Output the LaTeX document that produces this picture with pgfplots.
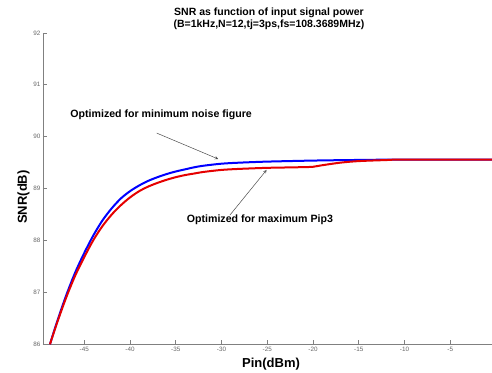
\documentclass[border=0pt]{standalone}
\usepackage{fontspec}
\setmainfont{Liberation Sans}
\usepackage{pgfplots}
\pgfplotsset{compat=1.18}
\begin{document}
\begin{tikzpicture}
\begin{axis}[
  at={(43pt,27.7pt)}, anchor=south west,
  x=9.15pt, y=51.9pt,
  xmin=-49.51, xmax=-0.44, ymin=86, ymax=92,
  axis lines*=left,
  axis line style={-, draw=black!50, line width=0.8pt},
  tick align=inside,
  major tick length=4pt,
  tick style={draw=black!50, line width=0.6pt},
  xtick={-45,-40,...,-5},
  ytick={86,87,...,92},
  /pgf/number format/assume math mode=true,
  tick label style={font=\fontsize{6.3}{7}\selectfont, text=black!60},
  yticklabel style={xshift=1pt},
  xticklabel style={yshift=1pt},
]
\addplot[blue, line width=2pt, smooth, tension=0.5] coordinates {
(-48.75,86.0) (-48,86.42) (-47,86.93) (-46,87.38) (-45,87.76) (-44,88.10)
(-43,88.39) (-42,88.62) (-41,88.81) (-40,88.95) (-39,89.06) (-38,89.15)
(-37,89.22) (-36,89.28) (-35,89.33) (-34,89.37) (-33,89.41) (-32,89.44)
(-30,89.48) (-28,89.50) (-25,89.52) (-20,89.54) (-16,89.55) (-10,89.56) (0,89.56)
};
\addplot[red!90!black, line width=2pt, smooth, tension=0.5] coordinates {
(-48.75,86.0) (-48,86.40) (-47,86.89) (-46,87.32) (-45,87.68) (-44,88.01)
(-43,88.28) (-42,88.50) (-41,88.68) (-40,88.83) (-39,88.95) (-38,89.04)
(-37,89.11) (-36,89.17) (-35,89.22) (-34,89.26) (-33,89.29) (-32,89.32)
(-30,89.36) (-28,89.38) (-25,89.40) (-22,89.41) (-20,89.42) (-19,89.45)
(-17,89.50) (-15,89.53) (-12,89.55) (-10,89.56) (0,89.56)
};
\draw[-stealth, black!70, line width=0.5pt] (axis cs:-37.09,90.07) -- (axis cs:-30.36,89.57);
\draw[-stealth, black!70, line width=0.5pt] (axis cs:-29.08,88.49) -- (axis cs:-25.07,89.36);
\node[font=\bfseries\fontsize{10.6}{12}\selectfont] at (axis cs:-36.6,90.42) {Optimized for minimum noise figure};
\node[font=\bfseries\fontsize{10.6}{12}\selectfont] at (axis cs:-25.8,88.40) {Optimized for maximum Pip3};
\end{axis}
\node[font=\bfseries\fontsize{10.5}{12}\selectfont, align=center] at (269pt,353pt)
  {SNR as function of input signal power\\(B=1kHz,N=12,tj=3ps,fs=108.3689MHz)};
\node[font=\bfseries\fontsize{13}{15}\selectfont, anchor=base] at (271pt,4.5pt) {Pin(dBm)};
\node[font=\bfseries\fontsize{13}{15}\selectfont, rotate=90] at (23.5pt,175pt) {SNR(dB)};
\pgfresetboundingbox
\path[use as bounding box] (0,0) rectangle (492pt,372pt);
\end{tikzpicture}
\end{document}
